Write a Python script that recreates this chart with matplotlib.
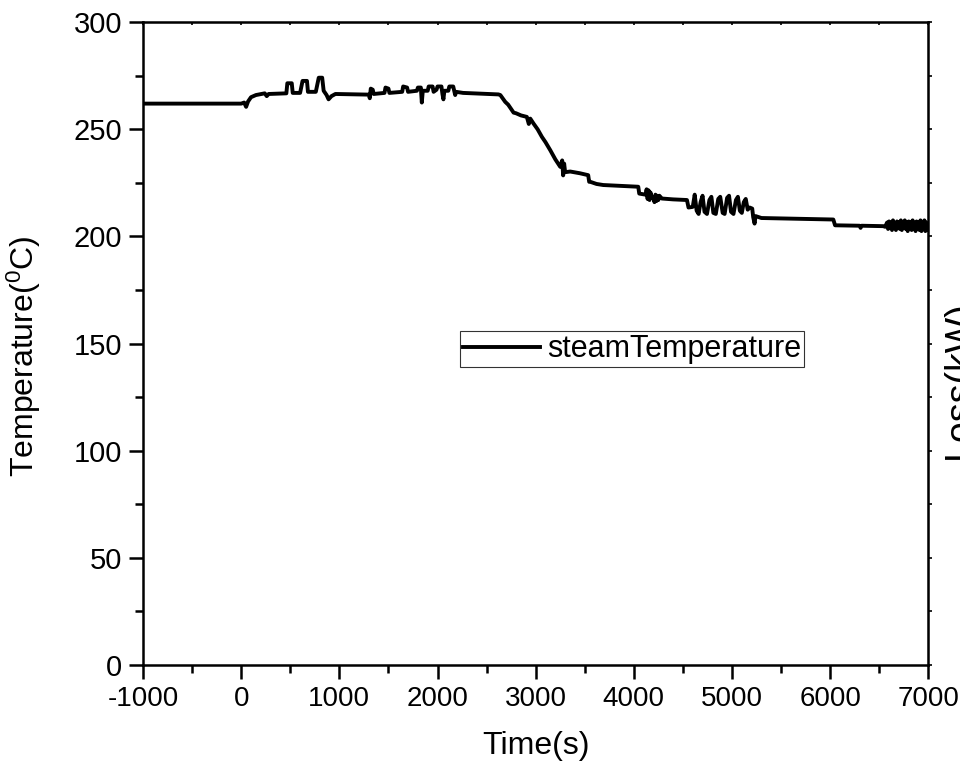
import numpy as np
import matplotlib
matplotlib.use("Agg")
import matplotlib.pyplot as plt
from matplotlib.ticker import MultipleLocator

# steam temperature (time in s, temperature in degC)
time_s = [-1000, 0, 30, 50, 70, 100, 150, 240, 260, 280, 460,
          470, 515, 525, 600, 625, 670, 680, 760, 790, 825, 840, 870, 890, 920, 960,
          1300, 1310, 1320, 1340, 1350, 1460, 1470, 1500, 1510, 1640, 1650, 1690, 1700,
          1790, 1800, 1830, 1840, 1850, 1900, 1910, 1950, 1960, 1990, 2000, 2040, 2050,
          2060, 2070, 2110, 2120, 2160, 2170, 2180, 2190, 2260, 2620,
          2640, 2690, 2720, 2757, 2775, 2800, 2850, 2910, 2930, 2945, 2978, 3020, 3063,
          3100, 3148, 3200, 3250, 3270, 3280, 3290, 3300, 3352, 3450, 3535, 3545, 3556, 3620,
          3688, 4045, 4055, 4120, 4130, 4140, 4150, 4160, 4170, 4180, 4199, 4210, 4220, 4230,
          4240, 4250, 4260, 4286, 4400, 4541, 4557,
          4600, 4620, 4640, 4660, 4680, 4700, 4720, 4745, 4770, 4790, 4810, 4835, 4860,
          4880, 4905, 4925, 4950, 4970, 4990, 5015, 5040, 5060, 5080, 5100, 5120,
          5140, 5160, 5180, 5206, 5216, 5230, 5240, 5300, 6032, 6050, 6300, 6310, 6320, 6540,
          6560, 6580, 6590, 6600, 6610, 6620, 6630, 6640, 6650, 6660, 6670, 6680, 6690, 6700,
          6710, 6720, 6730, 6740, 6750, 6760, 6770, 6780, 6790, 6800, 6810, 6820, 6830,
          6840, 6850, 6860, 6870, 6880, 6890, 6900, 6910, 6920, 6930, 6940, 6950, 6960,
          6970, 6980, 6990, 7000]
steam_temp = [262, 262, 262.5, 260.5, 263, 265, 266, 266.8, 265.5, 266.5, 266.8,
              271.5, 271.5, 267, 267, 272.6, 272.6, 267.5, 267.5, 274.1, 274.1, 268, 266, 264, 265.5, 266.5,
              266.2, 264.5, 269, 268.5, 266.5, 267, 269.5, 269, 267, 267.5, 270, 269.5, 267.5,
              268, 269.5, 269.5, 262.5, 268, 268, 270, 270, 267.5, 268.5, 270, 270, 266.5,
              264, 268, 268, 270, 270, 268, 266, 267.5, 267, 266.3,
              266, 262.8, 261.5, 259, 257.8, 257.5, 256.5, 255.8, 252.5, 255, 252.7, 250, 246.5,
              244, 240.3, 236, 232.5, 235.5, 228.5, 234, 230, 230.3, 229.5, 228.6, 225.5, 225.5, 224.5,
              224, 223.2, 220, 219.5, 222, 217.5, 221.5, 217, 220.5, 218, 218.5, 216, 219.5, 216.5,
              219, 217, 219, 217.7, 217.3, 217, 213.5,
              213.8, 219.5, 212, 210.5, 216, 219, 211.5, 210.5, 217, 218.5, 211, 210.5, 217.5,
              218.5, 211, 210.5, 218, 219, 211.5, 210.5, 217, 218.5, 212, 211, 216,
              217.5, 212.5, 213.5, 213, 209, 206, 209.5, 208.6, 207.9, 205.2, 205, 204, 205, 204.8,
              204.5, 206.5, 203.5, 207, 204, 206.5, 203, 207.5, 204.5, 206, 203, 207, 204, 206.5,
              203.5, 207.5, 203, 206, 204, 207.5, 203.5, 206.5, 202.5, 207, 204, 206.5, 203,
              207.5, 203.5, 206, 202.5, 207, 204, 206.5, 203, 207.5, 202.5, 206, 203.5, 207.5,
              202.5, 206.5, 203, 205]

xticks = [-1000, 0, 1000, 2000, 3000, 4000, 5000, 6000, 7000]
yticks = [0, 50, 100, 150, 200, 250, 300]

plt.rcParams['font.family'] = ['Liberation Sans', 'DejaVu Sans']
plt.rcParams['axes.unicode_minus'] = False

fig = plt.figure(figsize=(9.6, 7.66), dpi=100)
ax = fig.add_axes([0.149, 0.132, 0.818, 0.839])

ax.plot(time_s, steam_temp, color='black', lw=2.8, label='steamTemperature')

ax.set_xlim(-1000, 7000)
ax.set_ylim(0, 300)
ax.set_xticks(xticks)
ax.set_yticks(yticks)
ax.xaxis.set_minor_locator(MultipleLocator(500))
ax.yaxis.set_minor_locator(MultipleLocator(25))
ax.tick_params(which='major', direction='out', length=10, width=1.8, pad=5)
ax.tick_params(which='minor', direction='out', length=6, width=1.8)
ax.tick_params(axis='x', labelsize=20)
ax.tick_params(axis='y', labelsize=21)
for s in ax.spines.values():
    s.set_linewidth(1.8)

# tiny ticks on top and right edges
top = ax.secondary_xaxis('top')
top.set_xticks(np.arange(-1000, 7001, 500))
top.tick_params(direction='in', length=2, width=1.2, labeltop=False)
right = ax.secondary_yaxis('right')
right.set_yticks(np.arange(0, 301, 25))
right.tick_params(direction='out', length=3, width=1.2, labelright=False)

ax.set_xlabel('Time(s)', fontsize=23, labelpad=14)
ax.set_ylabel('Temperature($\\mathregular{^0}$C)', fontsize=23)
ax.yaxis.set_label_coords(-0.128, 0.48)
fig.text(0.981, 0.505, 'Loss(kW)', rotation=90, fontsize=27, ha='left', va='center')

leg = ax.legend(loc='center', bbox_to_anchor=(0.623, 0.491), fontsize=22,
                frameon=True, fancybox=False, handlelength=2.5, handletextpad=0.25,
                borderpad=0.1, borderaxespad=0)
leg.get_frame().set_edgecolor('black')
leg.get_frame().set_linewidth(0.8)

fig.savefig('out.png', dpi=100)
